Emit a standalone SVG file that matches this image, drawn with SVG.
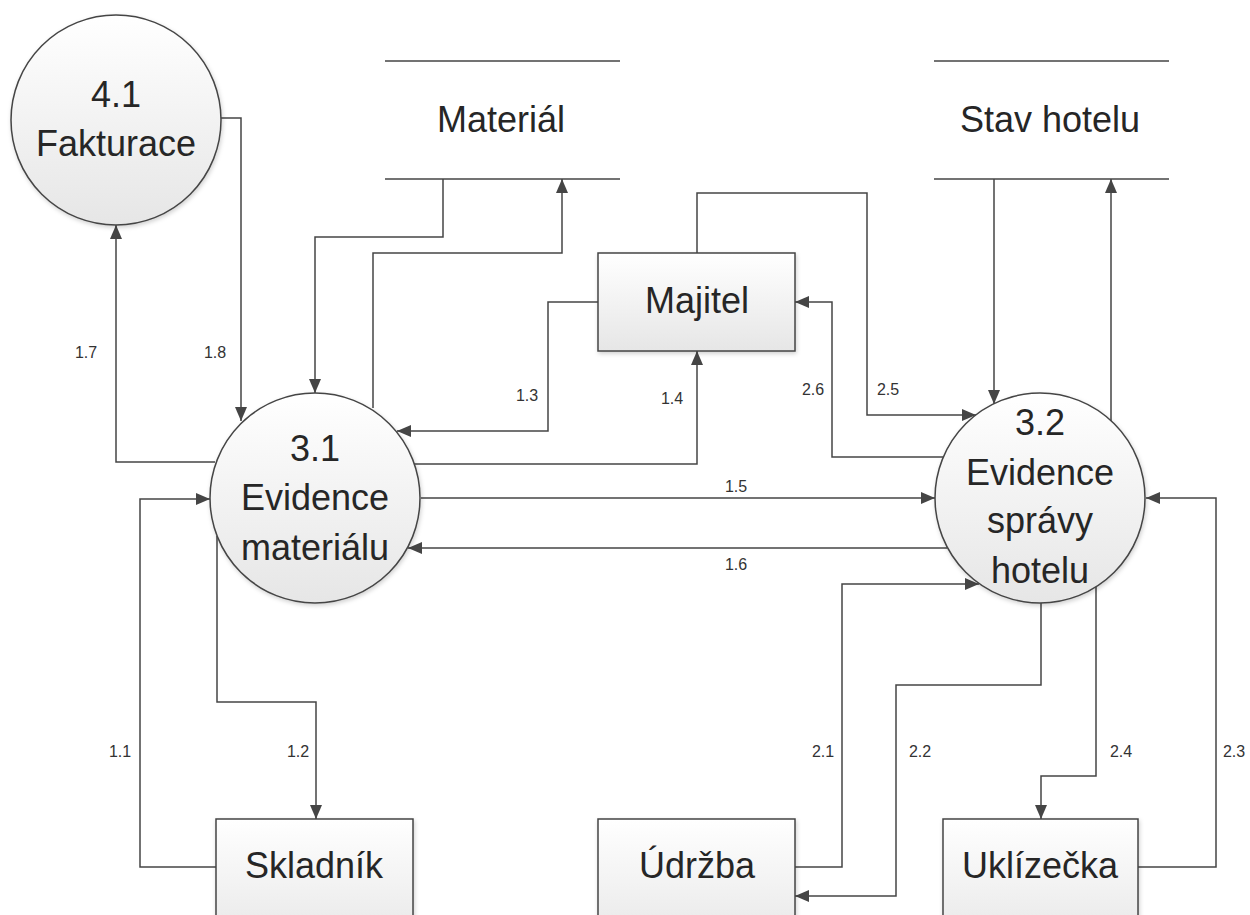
<svg xmlns="http://www.w3.org/2000/svg" width="1250" height="915" viewBox="0 0 1250 915">
<style>
.shape{stroke:#454545;stroke-width:1.5;fill:url(#g);filter:url(#sh)}
.store{stroke:#454545;stroke-width:1.5}
.t{font-family:"Liberation Sans",Arial,sans-serif;font-size:36px;fill:#262626;text-anchor:middle}
.l{font-family:"Liberation Sans",Arial,sans-serif;font-size:16px;fill:#333;text-anchor:middle}
.c{fill:none;stroke:#454545;stroke-width:1.5;marker-end:url(#a)}
</style>
<defs>
<linearGradient id="g" x1="0" y1="0" x2="0" y2="1">
<stop offset="0" stop-color="#ffffff"/>
<stop offset="1" stop-color="#e6e6e6"/>
</linearGradient>
<filter id="sh" x="-10%" y="-10%" width="125%" height="125%">
<feDropShadow dx="1" dy="2" stdDeviation="2" flood-color="#000" flood-opacity="0.18"/>
</filter>
<marker id="a" markerUnits="userSpaceOnUse" markerWidth="14" markerHeight="12" refX="14" refY="6" orient="auto">
<path d="M0,0 L14,6 L0,12 z" fill="#454545"/>
</marker>
</defs>
<g id="connectors">
<path class="c" d="M443,179 V237 H315 V393"/>
<path class="c" d="M373,408 V253 H562 V179"/>
<path class="c" d="M221,118 H241 V421"/>
<path class="c" d="M215,462 H116 V225"/>
<path class="c" d="M598,302 H548 V431 H397"/>
<path class="c" d="M414,464 H697 V351"/>
<path class="c" d="M421,498 H935"/>
<path class="c" d="M947,548 H408"/>
<path class="c" d="M216,867 H140 V499 H210"/>
<path class="c" d="M217,536 V702 H316 V819"/>
<path class="c" d="M795,867 H842 V584 H979"/>
<path class="c" d="M1041,603 V685 H896 V896 H795"/>
<path class="c" d="M1096,587 V776 H1041 V819"/>
<path class="c" d="M1138,867 H1216 V498 H1146"/>
<path class="c" d="M994,179 V404"/>
<path class="c" d="M1111,421 V179"/>
<path class="c" d="M697,253 V193 H867 V415 H976"/>
<path class="c" d="M943,457 H832 V302 H795"/>
<text class="l" x="86" y="358">1.7</text>
<text class="l" x="215" y="358">1.8</text>
<text class="l" x="527" y="401">1.3</text>
<text class="l" x="672" y="404">1.4</text>
<text class="l" x="813" y="395">2.6</text>
<text class="l" x="888" y="395">2.5</text>
<text class="l" x="736" y="492">1.5</text>
<text class="l" x="736" y="570">1.6</text>
<text class="l" x="120" y="757">1.1</text>
<text class="l" x="298" y="757">1.2</text>
<text class="l" x="823" y="757">2.1</text>
<text class="l" x="920" y="757">2.2</text>
<text class="l" x="1121" y="757">2.4</text>
<text class="l" x="1234" y="757">2.3</text>
</g>
<g id="p41">
<circle class="shape" cx="116" cy="120" r="105"/>
<text class="t" x="116" y="107">4.1</text>
<text class="t" x="116" y="156">Fakturace</text>
</g>
<g id="material">
<line class="store" x1="385" y1="61" x2="620" y2="61"/>
<line class="store" x1="385" y1="179" x2="620" y2="179"/>
<text class="t" x="501" y="132">Materiál</text>
</g>
<g id="stav">
<line class="store" x1="934" y1="61" x2="1169" y2="61"/>
<line class="store" x1="934" y1="179" x2="1169" y2="179"/>
<text class="t" x="1050" y="132">Stav hotelu</text>
</g>
<g id="majitel">
<rect class="shape" x="598" y="253" width="197" height="98"/>
<text class="t" x="697" y="313">Majitel</text>
</g>
<g id="p31">
<circle class="shape" cx="315" cy="498" r="105"/>
<text class="t" x="315" y="461">3.1</text>
<text class="t" x="315" y="510">Evidence</text>
<text class="t" x="315" y="560">materiálu</text>
</g>
<g id="p32">
<circle class="shape" cx="1040" cy="498" r="105"/>
<text class="t" x="1040" y="435">3.2</text>
<text class="t" x="1040" y="485">Evidence</text>
<text class="t" x="1040" y="533">správy</text>
<text class="t" x="1040" y="583">hotelu</text>
</g>
<g id="skladnik">
<rect class="shape" x="216" y="819" width="197" height="130"/>
<text class="t" x="314" y="878">Skladník</text>
</g>
<g id="udrzba">
<rect class="shape" x="598" y="819" width="197" height="130"/>
<text class="t" x="697" y="878">Údržba</text>
</g>
<g id="uklizecka">
<rect class="shape" x="943" y="819" width="195" height="130"/>
<text class="t" x="1040" y="878">Uklízečka</text>
</g>
</svg>
